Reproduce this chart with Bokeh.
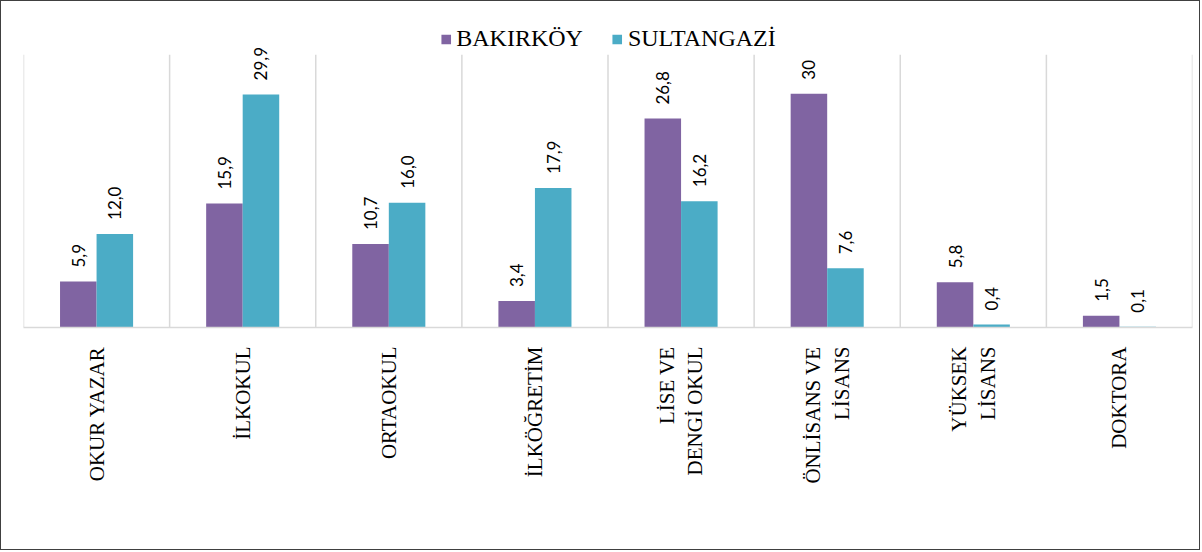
import math
from bokeh.plotting import figure
from bokeh.models import ColumnDataSource, FactorRange, Range1d, LabelSet, Legend, LegendItem
from bokeh.core.properties import value
from bokeh.transform import dodge
from bokeh.embed import file_html
from bokeh.resources import INLINE

categories = ["OKUR YAZAR", "İLKOKUL", "ORTAOKUL", "İLKÖĞRETİM",
              "LİSE VE\nDENGİ OKUL", "ÖNLİSANS VE\nLİSANS", "YÜKSEK\nLİSANS", "DOKTORA"]
bakirkoy = [5.9, 15.9, 10.7, 3.4, 26.8, 30, 5.8, 1.5]
sultangazi = [12.0, 29.9, 16.0, 17.9, 16.2, 7.6, 0.4, 0.1]
bakirkoy_labels = ["5,9", "15,9", "10,7", "3,4", "26,8", "30", "5,8", "1,5"]
sultangazi_labels = ["12,0", "29,9", "16,0", "17,9", "16,2", "7,6", "0,4", "0,1"]
series_names = ["BAKIRKÖY", "SULTANGAZİ"]
colors = ["#8064A2", "#4BACC6"]
axis_max = 35

src = ColumnDataSource(dict(cat=categories, b=bakirkoy, s=sultangazi,
                            bl=bakirkoy_labels, sl=sultangazi_labels))

p = figure(width=1200, height=550, x_range=FactorRange(*categories, range_padding=0),
           y_range=Range1d(0, 39), output_backend="svg", toolbar_location=None,
           min_border_left=22, min_border_right=9, min_border_top=22, min_border_bottom=224)
p.outline_line_color = None
p.styles = {"border": "1px solid #404040"}

# category separators from the baseline up to the axis maximum
sep_x = list(range(len(categories) + 1))
p.segment(x0=sep_x, y0=[0] * len(sep_x), x1=sep_x, y1=[axis_max] * len(sep_x),
          line_color="#D9D9D9", line_width=1.5)

bw = 0.25
r1 = p.vbar(x=dodge("cat", -bw / 2, range=p.x_range), top="b", width=bw, source=src,
            fill_color=colors[0], line_color=None)
r2 = p.vbar(x=dodge("cat", bw / 2, range=p.x_range), top="s", width=bw, source=src,
            fill_color=colors[1], line_color=None)

for col, lab, off in (("b", "bl", -bw / 2), ("s", "sl", bw / 2)):
    ls = LabelSet(x=dodge("cat", off, range=p.x_range), y=col, text=lab, source=src,
                  angle=math.pi / 2, text_align="left", text_baseline="middle",
                  y_offset=14, text_font=value("Lato"), text_font_size=value("17px"),
                  text_color="#000000")
    p.add_layout(ls)

p.xgrid.visible = False
p.ygrid.visible = False
p.yaxis.visible = False
p.xaxis.axis_line_color = "#D9D9D9"
p.xaxis.axis_line_width = 1.5
p.xaxis.major_tick_in = 0
p.xaxis.major_tick_out = 0
p.xaxis.major_tick_line_color = None
p.xaxis.minor_tick_line_color = None
p.xaxis.major_label_orientation = math.pi / 2
p.xaxis.major_label_standoff = 19
p.xaxis.major_label_text_font = "Liberation Serif"
p.xaxis.major_label_text_font_size = "21px"
p.xaxis.major_label_text_color = "#000000"

legend = Legend(items=[LegendItem(label=series_names[0], renderers=[r1]),
                       LegendItem(label=series_names[1], renderers=[r2])],
                orientation="horizontal", location="top_center",
                label_text_font="Liberation Serif", label_text_font_size="24px",
                label_text_color="#000000",
                glyph_width=12, glyph_height=12, label_standoff=5, spacing=28,
                padding=0, margin=2, border_line_color=None, background_fill_alpha=0)
p.add_layout(legend)

open("out.html", "w").write(file_html(p, INLINE))
